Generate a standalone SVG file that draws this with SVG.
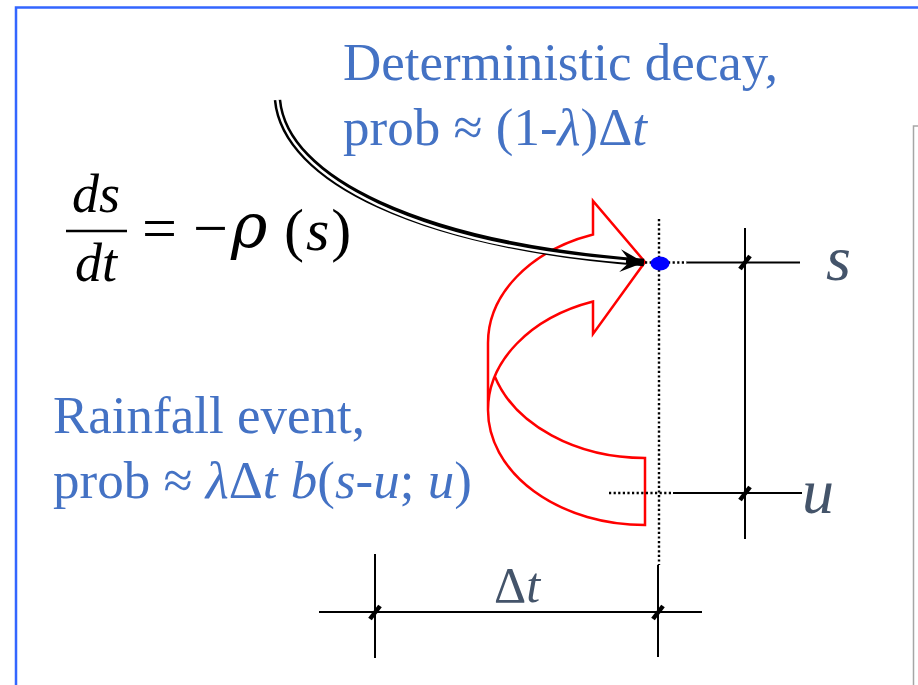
<svg xmlns="http://www.w3.org/2000/svg" width="918" height="685" viewBox="0 0 918 685">
<style>
.serif{font-family:"Liberation Serif","Times New Roman",serif}
.blue{fill:#4472C4;font-size:53px}
.eq{fill:#000}
.lbl{fill:#44546A}
.i{font-style:italic}
.solid{stroke:#000;stroke-width:2;fill:none}
.dotted{stroke:#000;stroke-width:2.4;stroke-dasharray:2.2 2.4;fill:none}
.tick{stroke:#000;stroke-width:4.5;stroke-linecap:butt}
</style>
<defs>
<marker id="stealth" markerUnits="userSpaceOnUse" markerWidth="30" markerHeight="30" viewBox="-26 -13 30 26" refX="0" refY="0" orient="auto">
<polygon points="0,0 -24,-11.5 -14,0 -24,11.5" fill="#000"/>
</marker>
</defs>
<rect x="0" y="0" width="918" height="685" fill="#fff"/>
<g id="frame">
<path d="M16 685 L16 7.5 L918 7.5" fill="none" stroke="#3366FF" stroke-width="2.5"/>
<path d="M918 126 L913.5 126 L913.5 685" fill="none" stroke="#A6A6A6" stroke-width="1.5"/>
</g>
<g id="decay-label" class="serif blue">
<text x="343" y="80">Deterministic decay,</text>
<text x="343" y="145">prob ≈ (1-<tspan class="i">λ</tspan>)Δ<tspan class="i">t</tspan></text>
</g>
<g id="rain-label" class="serif blue">
<text x="53" y="433">Rainfall event,</text>
<text x="53" y="498">prob ≈ <tspan class="i">λ</tspan>Δ<tspan class="i">t b</tspan>(<tspan class="i">s</tspan>-<tspan class="i">u</tspan>; <tspan class="i">u</tspan>)</text>
</g>
<g id="equation" class="serif eq">
<text x="96" y="212" font-size="54" text-anchor="middle" class="i">ds</text>
<line x1="66" y1="231" x2="127" y2="231" stroke="#000" stroke-width="2.5"/>
<text x="96" y="281" font-size="54" text-anchor="middle" class="i">dt</text>
<text x="142" y="249" font-size="62">=</text>
<text x="193" y="249" font-size="62">−</text>
<text x="231" y="247" font-size="62" font-family="'DejaVu Serif',serif" class="i">ρ</text>
<text x="284" y="250" font-size="60" letter-spacing="2">(<tspan class="i">s</tspan>)</text>
</g>
<g id="rain-arrow">
<path d="M488 410 A157 115 0 0 1 593 301.5 L593 334 L645 262 L593 201 L593 234.5 A157 115 0 0 0 488 343 L488 410 A157 115 0 0 0 645 525 L645 458 A157 115 0 0 1 494.8 376.5" fill="none" stroke="#FF0000" stroke-width="2.5" stroke-linejoin="miter"/>
</g>
<g id="axes">
<line class="dotted" x1="659" y1="219" x2="659" y2="565"/>
<line class="dotted" x1="645" y1="262.5" x2="687" y2="262.5"/>
<line class="solid" x1="687" y1="262.5" x2="800" y2="262.5"/>
<line class="dotted" x1="609" y1="493" x2="673" y2="493"/>
<line class="solid" x1="673" y1="493" x2="802" y2="493"/>
<line class="solid" x1="745" y1="228" x2="745" y2="539"/>
<line class="solid" x1="319" y1="612" x2="702" y2="612"/>
<line class="solid" x1="375" y1="554" x2="375" y2="658"/>
<line class="solid" x1="658" y1="565" x2="658" y2="657"/>
<line class="tick" x1="740" y1="269" x2="750" y2="256"/>
<line class="tick" x1="740" y1="500" x2="750" y2="487"/>
<line class="tick" x1="370" y1="619" x2="380" y2="606"/>
<line class="tick" x1="653" y1="619" x2="663" y2="606"/>
<text x="826" y="280" font-size="64" class="serif lbl i">s</text>
<text x="802" y="513" font-size="64" class="serif lbl i">u</text>
<text x="494" y="602" font-size="50" class="serif lbl">Δ<tspan class="i">t</tspan></text>
</g>
<g id="state-point">
<ellipse cx="660" cy="263.5" rx="9.5" ry="7" fill="#0000FF"/>
</g>
<g id="connectors">
<path d="M277.5 100 C285 180 420 245 644 262.5" fill="none" stroke="#000" stroke-width="7.5" marker-end="url(#stealth)"/>
<path d="M277.5 100 C285 180 420 245 626 261.5" fill="none" stroke="#fff" stroke-width="2.5"/>
</g>
</svg>
